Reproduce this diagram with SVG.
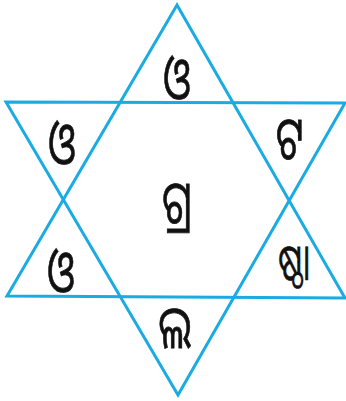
<svg xmlns="http://www.w3.org/2000/svg" width="346" height="401" viewBox="0 0 346 401">
<style>
.tri{fill:none;stroke:#1aabe2;stroke-width:3;stroke-linejoin:miter}
.t{font-family:"Noto Sans Oriya","Noto Sans",sans-serif;font-size:44px;fill:#111;text-anchor:middle;dominant-baseline:central;stroke:#111;stroke-width:0.6}
</style>
<rect width="346" height="401" fill="#fff"/>
<g id="connectors">
<polygon class="tri" points="177,5 7,296 345,298"/>
<polygon class="tri" points="6,102 345,103 178,395"/>
</g>
<g id="n1"><text class="t" transform="translate(177,76) scale(0.9,1.35)">ଓ</text></g>
<g id="n2"><text class="t" transform="translate(62,141) scale(0.9,1.35)">ଓ</text></g>
<g id="n3"><text class="t" transform="translate(290,136) scale(0.9,1.35)">ଟ</text></g>
<g id="n4"><text class="t" transform="translate(177,200) scale(0.9,1.35)">ଗ୍ର</text></g>
<g id="n5"><text class="t" transform="translate(61,269) scale(0.9,1.35)">ଓ</text></g>
<g id="n6"><text class="t" transform="translate(294,260) scale(0.72,1.15)">ଷ୍ଠା</text></g>
<g id="n7"><text class="t" transform="translate(175,325) scale(0.9,1.35)">ଲ</text></g>
</svg>
